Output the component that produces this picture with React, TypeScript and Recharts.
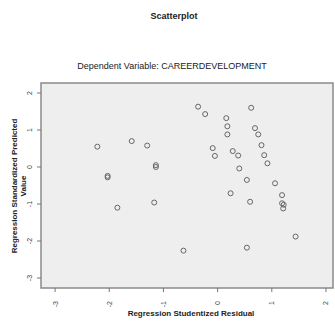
import { ReferenceArea, Scatter, ScatterChart, XAxis, YAxis } from 'recharts'

// studentized residual (x) vs standardized predicted value (y)
const residuals = [
  -2.22, -1.585, -1.3, -1.14, -1.14, -2.03, -2.03, -1.17, -1.85, -0.63,
  -0.36, -0.23, 0.62, 0.16, 0.18, 0.18, 0.69, 0.75, 0.81, 0.86,
  0.92, -0.09, -0.05, 0.28, 0.38, 0.4, 0.54, 0.24, 0.6, 1.06,
  1.19, 1.19, 1.22, 1.21, 1.44, 0.54,
]
const predicted = [
  0.55, 0.7, 0.58, 0.05, 0.0, -0.24, -0.28, -0.96, -1.1, -2.26,
  1.63, 1.43, 1.6, 1.32, 1.1, 0.88, 1.05, 0.88, 0.59, 0.32,
  0.1, 0.51, 0.3, 0.43, 0.31, -0.04, -0.35, -0.71, -0.94, -0.44,
  -0.76, -0.98, -1.02, -1.12, -1.88, -2.18,
]
const xTicks = [-3, -2, -1, 0, 1, 2]
const yTicks = [-3, -2, -1, 0, 1, 2]
const xDomain: [number, number] = [-3.26, 2.13]
const yDomain: [number, number] = [-3.27, 2.27]

const points = residuals.map((x, i) => ({ x, y: predicted[i] }))

const font = '"Liberation Sans Narrow", "Arial Narrow", "Liberation Sans", sans-serif'

function RotTick(props: any) {
  const { x, y, payload, axis } = props
  const dx = axis === 'x' ? 0 : -3
  const dy = axis === 'x' ? 7 : 0
  return (
    <text
      x={x + dx}
      y={y + dy}
      transform={`rotate(-90 ${x + dx} ${y + dy})`}
      textAnchor={axis === 'x' ? 'end' : 'middle'}
      dominantBaseline={axis === 'x' ? 'central' : 'auto'}
      fontSize={7}
      fontFamily={font}
      fill="#444"
    >
      {payload.value}
    </text>
  )
}

function Dot(props: any) {
  return <circle cx={props.cx} cy={props.cy} r={2.5} fill="none" stroke="#666" strokeWidth={1} />
}

export default function App() {
  return (
    <div style={{ position: 'absolute', left: 0, top: 0, width: 335, height: 322, background: '#fff' }}>
      <ScatterChart width={335} height={322} margin={{ top: 83, right: 2, bottom: 14, left: 11 }}>
        <XAxis
          type="number"
          dataKey="x"
          domain={xDomain}
          ticks={xTicks}
          allowDataOverflow
          axisLine={false}
          tickLine={{ stroke: '#777' }}
          tickSize={4}
          height={20}
          tick={<RotTick axis="x" />}
        />
        <YAxis
          type="number"
          dataKey="y"
          domain={yDomain}
          ticks={yTicks}
          allowDataOverflow
          axisLine={false}
          tickLine={{ stroke: '#777' }}
          tickSize={4}
          width={30}
          tick={<RotTick axis="y" />}
        />
        <ReferenceArea
          x1={xDomain[0]}
          x2={xDomain[1]}
          y1={yDomain[0]}
          y2={yDomain[1]}
          fill="#eeeeee"
          fillOpacity={1}
          stroke="#8a8a8a"
          strokeWidth={1.5}
        />
        <Scatter data={points} shape={<Dot />} isAnimationActive={false} />
      </ScatterChart>
      <svg
        width={335}
        height={322}
        style={{ position: 'absolute', left: 0, top: 0, pointerEvents: 'none' }}
      >
        <text x={174} y={19} textAnchor="middle" fontSize={9} fontWeight="bold" fontFamily={font} fill="#222">
          Scatterplot
        </text>
        <text x={172} y={69} textAnchor="middle" fontSize={9} fontFamily={font} fill="#222">
          Dependent Variable: CAREERDEVELOPMENT
        </text>
        <text x={191} y={316} textAnchor="middle" fontSize={8} fontWeight="bold" fontFamily={font} fill="#222">
          Regression Studentized Residual
        </text>
        <text
          x={17}
          y={186}
          transform="rotate(-90 17 186)"
          textAnchor="middle"
          fontSize={8}
          fontWeight="bold"
          fontFamily={font}
          fill="#222"
        >
          Regression Standardized Predicted
        </text>
        <text
          x={26}
          y={186}
          transform="rotate(-90 26 186)"
          textAnchor="middle"
          fontSize={8}
          fontWeight="bold"
          fontFamily={font}
          fill="#222"
        >
          Value
        </text>
      </svg>
    </div>
  )
}
